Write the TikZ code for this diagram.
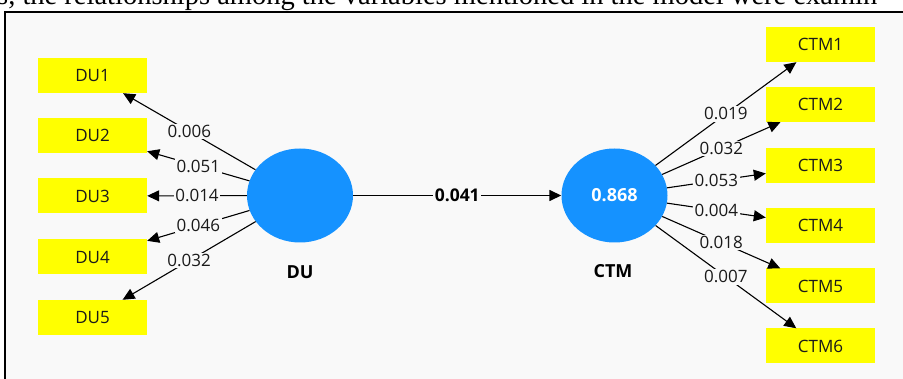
\documentclass[tikz,border=0pt]{standalone}
\usepackage{fontspec}
\setmainfont{Open Sans}
\newfontfamily\timesfont{Liberation Serif}
\usetikzlibrary{arrows.meta,shapes.geometric}
\definecolor{bg}{HTML}{F9F9F9}
\definecolor{lvblue}{HTML}{1592FF}
\definecolor{indyellow}{HTML}{FFFF00}
\definecolor{txt}{HTML}{1A1A1A}
\tikzset{
  indbox/.style={rectangle, fill=indyellow, minimum width=109pt, minimum height=35pt, inner sep=0pt, font=\fontsize{17}{20}\selectfont, text=txt},
  lvnode/.style={ellipse, fill=lvblue, minimum width=106pt, minimum height=94pt, inner sep=0pt},
  lvname/.style={font=\bfseries\fontsize{18}{21}\selectfont, text=black},
  loadarrow/.style={-{Triangle[length=12pt,width=11pt]}, line width=1.1pt, draw=black},
  wlab/.style={fill=bg, inner sep=1.5pt, font=\fontsize{17}{20}\selectfont, text=txt}
}
\begin{document}
\begin{tikzpicture}[x=1pt,y=-1pt]
\useasboundingbox (0,0) rectangle (903,379);
\clip (0,0) rectangle (903,379);
\fill[white] (0,0) rectangle (903,379);
\node[anchor=base west, inner sep=0pt, font=\timesfont\fontsize{28.5}{32}\selectfont] (toptext) at (-3,5) {s, the relationships among the variables mentioned in the model were examin};
\draw[fill=bg, line width=1.2pt] (5,12) rectangle (915,395);

% latent variables
\node[lvnode] (du) at (300,195.5) {};
\node[lvnode, text=white, font=\bfseries\fontsize{18}{21}\selectfont] (ctm) at (614.5,195.5) {0.868};
\node[lvname] (dulab) at (300,272) {DU};
\node[lvname] (ctmlab) at (613,271) {CTM};

% indicators
\node[indbox] (du1) at (92.5,75.5) {DU1};
\node[indbox] (du2) at (92.5,135.5) {DU2};
\node[indbox] (du3) at (92.5,196) {DU3};
\node[indbox] (du4) at (92.5,257) {DU4};
\node[indbox] (du5) at (92.5,317.5) {DU5};

\node[indbox] (ctm1) at (820.5,44.5) {CTM1};
\node[indbox] (ctm2) at (820.5,104.5) {CTM2};
\node[indbox] (ctm3) at (820.5,165.5) {CTM3};
\node[indbox] (ctm4) at (820.5,225.5) {CTM4};
\node[indbox] (ctm5) at (820.5,286) {CTM5};
\node[indbox] (ctm6) at (820.5,346) {CTM6};

% outer loadings
\draw[loadarrow] (du) -- node[wlab] {0.006} (du1);
\draw[loadarrow] (du) -- node[wlab] {0.051} (du2);
\draw[loadarrow] (du) -- node[wlab] {0.014} (du3);
\draw[loadarrow] (du) -- node[wlab] {0.046} (du4);
\draw[loadarrow] (du) -- node[wlab] {0.032} (du5);

\draw[loadarrow] (ctm) -- node[wlab] {0.019} (ctm1);
\draw[loadarrow] (ctm) -- node[wlab] {0.032} (ctm2);
\draw[loadarrow] (ctm) -- node[wlab] {0.053} (ctm3);
\draw[loadarrow] (ctm) -- node[wlab] {0.004} (ctm4);
\draw[loadarrow] (ctm) -- node[wlab] {0.018} (ctm5);
\draw[loadarrow] (ctm) -- node[wlab] {0.007} (ctm6);

% path
\draw[loadarrow, line width=1.5pt] (du) -- node[wlab, text=black, font=\bfseries\fontsize{17.5}{20}\selectfont] {0.041} (ctm);
\end{tikzpicture}
\end{document}
